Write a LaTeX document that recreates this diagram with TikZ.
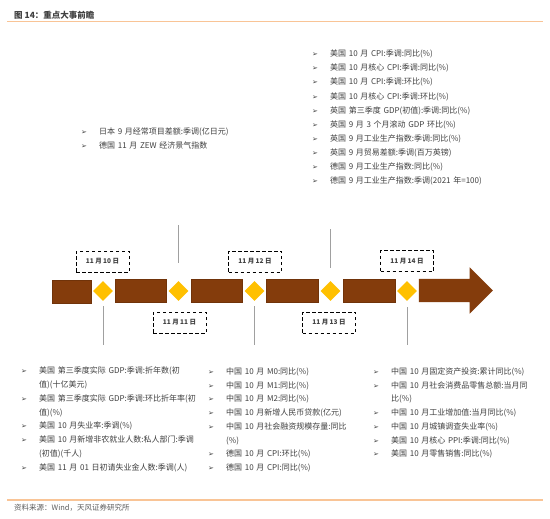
\documentclass[tikz,border=0pt]{standalone}
\usepackage{fontspec}
\setmainfont{Noto Sans CJK SC}
\newfontfamily\symfont{DejaVu Sans}
\usetikzlibrary{shapes.geometric,shapes.arrows,positioning}
\definecolor{eventbrown}{RGB}{132, 60, 12}
\definecolor{markgold}{RGB}{255, 192, 0}
\definecolor{ruleorange}{RGB}{249, 196, 150}
\definecolor{textgray}{RGB}{64, 64, 64}
\definecolor{tickgray}{RGB}{160, 160, 160}
\newcommand{\bitem}[1]{\par\hangindent=18pt\hangafter=1\noindent\makebox[18pt][l]{\symfont\fontsize{7}{7}\selectfont ➢}#1}

\begin{document}
\begin{tikzpicture}[
    x=1pt, y=-1pt,
    every node/.style={inner sep=0pt, text=textgray},
    segment/.style={rectangle, fill=eventbrown, draw=eventbrown!85!black, line width=0.4pt, minimum height=23pt},
    marker/.style={diamond, fill=markgold, minimum width=20pt, minimum height=20pt},
    datebox/.style={rectangle, draw=black, dash pattern=on 3.5pt off 2.5pt, line width=1pt, minimum width=53pt, minimum height=21pt, font=\fontsize{6.5}{7}\selectfont\bfseries},
    tick/.style={draw=tickgray, line width=0.7pt},
    eventlist/.style={anchor=north west, text width=#1, font=\fontsize{8}{13.75}\selectfont},
    rule/.style={draw=ruleorange, line width=1.3pt}
]
\fill[white] (0,0) rectangle (550,519);
\useasboundingbox (0,0) rectangle (550,519);

% Header and footer
\node[anchor=west, font=\fontsize{8.5}{10}\selectfont\bfseries] (title) at (14,15) {图 14：重点大事前瞻};
\draw[rule] (7,21.7) -- (543,21.7);
\draw[rule] (7,500) -- (543,500);
\node[anchor=west, text=textgray!85, font=\fontsize{7.5}{9}\selectfont] (source) at (14,507.5) {资料来源：Wind，天风证券研究所};

% Timeline
\node[segment, minimum width=39pt] (seg1) at (71.5,291.5) {};
\node[segment, minimum width=51pt] (seg2) at (140.5,291) {};
\node[segment, minimum width=51pt] (seg3) at (216.5,290.5) {};
\node[segment, minimum width=52pt] (seg4) at (292,290.5) {};
\node[segment, minimum width=52pt] (seg5) at (369,290.5) {};
\node[single arrow, fill=eventbrown, inner xsep=0pt, inner ysep=11.5pt, minimum height=74pt, single arrow head extend=11.5pt, single arrow head indent=0pt] (head) at (450,290.5) {};

\node[marker] (d1) at (103,291) {};
\node[marker] (d2) at (178.5,291) {};
\node[marker] (d3) at (254.5,291) {};
\node[marker] (d4) at (330.5,291) {};
\node[marker] (d5) at (407,291) {};

% Dates
\node[datebox] (b10) at (102.5,261.5) {11 月 10 日};
\node[datebox] (b11) at (179.5,322.5) {11 月 11 日};
\node[datebox] (b12) at (255,261.5) {11 月 12 日};
\node[datebox] (b13) at (329,322.5) {11 月 13 日};
\node[datebox] (b14) at (407,261) {11 月 14 日};

% Ticks
\coordinate (t1) at (103,345);
\coordinate (t2) at (178.5,225);
\coordinate (t3) at (254.5,345);
\coordinate (t4) at (330.5,229);
\coordinate (t5) at (407,345);
\draw[tick, shorten <=5pt] (d1) -- (t1);
\draw[tick, shorten <=18pt] (d2) -- (t2);
\draw[tick, shorten <=5pt] (d3) -- (t3);
\draw[tick, shorten <=13pt] (d4) -- (t4);
\draw[tick, shorten <=6pt] (d5) -- (t5);

% Event lists
\node[eventlist=170pt] (list10) at (81,120.5) {%
\bitem{日本 9 月经常项目差额:季调(亿日元)}
\bitem{德国 11 月 ZEW 经济景气指数}};

\node[eventlist=220pt, font=\fontsize{8}{14.1}\selectfont] (list12) at (312,42.5) {%
\bitem{美国 10 月 CPI:季调:同比(\%)}
\bitem{美国 10 月核心 CPI:季调:同比(\%)}
\bitem{美国 10 月 CPI:季调:环比(\%)}
\bitem{美国 10 月核心 CPI:季调:环比(\%)}
\bitem{英国 第三季度 GDP(初值):季调:同比(\%)}
\bitem{英国 9 月 3 个月滚动 GDP 环比(\%)}
\bitem{英国 9 月工业生产指数:季调:同比(\%)}
\bitem{英国 9 月贸易差额:季调(百万英镑)}
\bitem{德国 9 月工业生产指数:同比(\%)}
\bitem{德国 9 月工业生产指数:季调(2021 年=100)}};

\node[eventlist=200pt] (list11) at (21,360) {%
\bitem{美国 第三季度实际 GDP:季调:折年数(初\newline 值)(十亿美元)}
\bitem{美国 第三季度实际 GDP:季调:环比折年率(初\newline 值)(\%)}
\bitem{美国 10 月失业率:季调(\%)}
\bitem{美国 10 月新增非农就业人数:私人部门:季调\newline (初值)(千人)}
\bitem{美国 11 月 01 日初请失业金人数:季调(人)}};

\node[eventlist=170pt] (list13) at (208,360.5) {%
\bitem{中国 10 月 M0:同比(\%)}
\bitem{中国 10 月 M1:同比(\%)}
\bitem{中国 10 月 M2:同比(\%)}
\bitem{中国 10 月新增人民币贷款(亿元)}
\bitem{中国 10 月社会融资规模存量:同比\newline (\%)}
\bitem{德国 10 月 CPI:环比(\%)}
\bitem{德国 10 月 CPI:同比(\%)}};

\node[eventlist=175pt] (list14) at (373,360.5) {%
\bitem{中国 10 月固定资产投资:累计同比(\%)}
\bitem{中国 10 月社会消费品零售总额:当月同\newline 比(\%)}
\bitem{中国 10 月工业增加值:当月同比(\%)}
\bitem{中国 10 月城镇调查失业率(\%)}
\bitem{美国 10 月核心 PPI:季调:同比(\%)}
\bitem{美国 10 月零售销售:同比(\%)}};

\end{tikzpicture}
\end{document}
